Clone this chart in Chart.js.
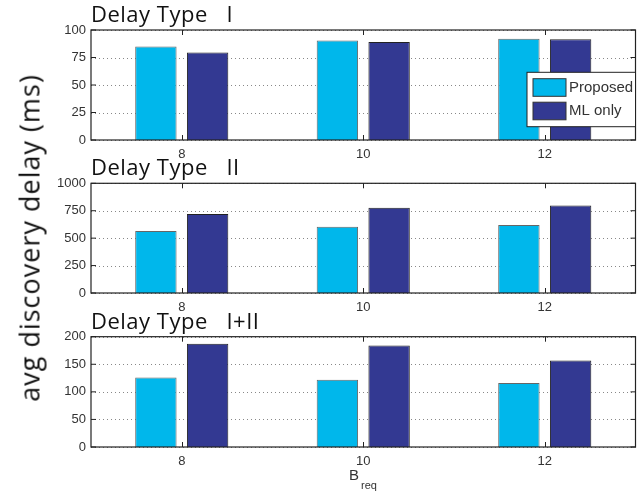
<!DOCTYPE html>
<html>
<head>
<meta charset="utf-8">
<script src="https://cdn.jsdelivr.net/npm/chart.js@4.4.0/dist/chart.umd.min.js"></script>
<style>
  body { margin: 0; background: #fff; }
  #wrap { position: relative; width: 637px; height: 493px; overflow: hidden; background: #fff; }
  canvas { position: absolute; left: 0; }
  #ylab {
    position: absolute; left: 29px; top: 238px;
    transform: translate(-50%, -50%) rotate(-90deg);
    font: 27px "Open Sans", sans-serif; letter-spacing: 1px; color: #111; white-space: nowrap;
  }
  #xlab {
    position: absolute; left: 349px; top: 466px;
    font: 15px "Liberation Sans", Arial, sans-serif; color: #333; white-space: nowrap;
  }
  #xlab sub { font-size: 11px; vertical-align: -9px; margin-left: 2px; }
</style>
</head>
<body>
<div id="wrap">
  <canvas id="c1" width="637" height="160" style="top:0px"></canvas>
  <canvas id="c2" width="637" height="160" style="top:153px"></canvas>
  <canvas id="c3" width="637" height="161" style="top:306px"></canvas>
  <div id="ylab">avg discovery delay (ms)</div>
  <div id="xlab">B<sub>req</sub></div>
</div>
<script>
// data
const bReq = ['8', '10', '12'];
const seriesNames = ['Proposed', 'ML only'];

const type1Proposed = [85, 90.5, 92];
const type1MLOnly = [79.5, 89, 91.5];

const type2Proposed = [566, 603, 621];
const type2MLOnly = [721, 778, 797];

const type12Proposed = [126, 122, 116];
const type12MLOnly = [187, 184, 157];

const titles = ['Delay Type   I', 'Delay Type   II', 'Delay Type   I+II'];

const cyan = 'rgb(0,183,235)';
const navy = 'rgb(51,57,146)';
const tickFont = { family: 'Liberation Sans', size: 13 };

// dotted grid lines under the bars
const gridPlugin = {
  id: 'dotgrid',
  beforeDatasetsDraw(chart) {
    const { ctx, chartArea: a, scales: { y } } = chart;
    ctx.save();
    ctx.strokeStyle = '#888';
    ctx.lineWidth = 1;
    ctx.setLineDash([1, 3]);
    ctx.beginPath();
    y.ticks.forEach((t, i) => {
      const py = Math.round(y.getPixelForTick(i)) + 0.5;
      ctx.moveTo(a.left, py); ctx.lineTo(a.right, py);
    });
    ctx.stroke();
    ctx.restore();
  }
};

// frame, inner tick marks and panel title, MATLAB style
const framePlugin = {
  id: 'frame',
  afterDraw(chart, args, opts) {
    const { ctx, chartArea: a, scales: { x, y } } = chart;
    ctx.save();
    ctx.strokeStyle = '#222';
    ctx.lineWidth = 1.2;
    ctx.strokeRect(a.left, a.top, a.right - a.left, a.bottom - a.top);
    ctx.beginPath();
    x.ticks.forEach((t, i) => {
      const px = Math.round(x.getPixelForTick(i)) + 0.5;
      ctx.moveTo(px, a.top); ctx.lineTo(px, a.top + 5);
      ctx.moveTo(px, a.bottom); ctx.lineTo(px, a.bottom - 5);
    });
    y.ticks.forEach((t, i) => {
      const py = y.getPixelForTick(i);
      ctx.moveTo(a.left, py); ctx.lineTo(a.left + 5, py);
      ctx.moveTo(a.right, py); ctx.lineTo(a.right - 5, py);
    });
    ctx.lineWidth = 1;
    ctx.stroke();

    ctx.fillStyle = '#111';
    ctx.font = '22px "Open Sans"';
    ctx.letterSpacing = '0.5px';
    ctx.textBaseline = 'alphabetic';
    ctx.textAlign = 'left';
    ctx.fillText(opts.text, a.left, a.top - 8);
    ctx.letterSpacing = '0px';

    if (opts.legend) {
      const lx = a.right - 108.5, ly = a.top + 42.3;
      ctx.fillStyle = '#fff';
      ctx.fillRect(lx, ly, 108.5, 54.4);
      ctx.strokeStyle = '#222';
      ctx.strokeRect(lx, ly, 108.5, 54.4);
      chart.data.datasets.forEach((ds, i) => {
        const sy = ly + 6.4 + i * 23.5;
        ctx.fillStyle = ds.backgroundColor;
        ctx.fillRect(lx + 6, sy, 33, 17.6);
        ctx.strokeStyle = '#333';
        ctx.strokeRect(lx + 6, sy, 33, 17.6);
        ctx.fillStyle = '#333';
        ctx.font = '15px "Liberation Sans"';
        ctx.textBaseline = 'middle';
        ctx.fillText(ds.label, lx + 42, sy + 9);
      });
    }
    ctx.restore();
  }
};

function makePanel(id, title, proposed, mlOnly, max, step, padTop, legend) {
  return new Chart(document.getElementById(id), {
    type: 'bar',
    data: {
      labels: bReq,
      datasets: [
        { label: seriesNames[0], data: proposed, backgroundColor: cyan, borderColor: '#666', borderWidth: 1 },
        { label: seriesNames[1], data: mlOnly, backgroundColor: navy, borderColor: '#222', borderWidth: 1 }
      ]
    },
    options: {
      responsive: false,
      animation: false,
      devicePixelRatio: 1,
      categoryPercentage: 0.57,
      barPercentage: 0.8,
      layout: { padding: { top: padTop, right: 1.5, left: 0, bottom: 0 } },
      plugins: {
        legend: { display: false },
        tooltip: { enabled: false },
        frame: { text: title, legend: legend }
      },
      scales: {
        x: {
          grid: { display: false, drawTicks: false },
          border: { display: false },
          ticks: { color: '#333', font: tickFont, padding: 7 },
          afterFit: s => { s.height = 20; }
        },
        y: {
          min: 0, max: max,
          grid: { display: false, drawTicks: false },
          border: { display: false },
          ticks: { stepSize: step, color: '#333', font: tickFont, padding: 5, callback: v => String(v) },
          afterFit: s => { s.width = 91; }
        }
      }
    },
    plugins: [gridPlugin, framePlugin]
  });
}

makePanel('c1', titles[0], type1Proposed, type1MLOnly, 100, 25, 30, true);
makePanel('c2', titles[1], type2Proposed, type2MLOnly, 1000, 250, 30.3, false);
makePanel('c3', titles[2], type12Proposed, type12MLOnly, 200, 50, 30.7, false);
</script>
</body>
</html>
